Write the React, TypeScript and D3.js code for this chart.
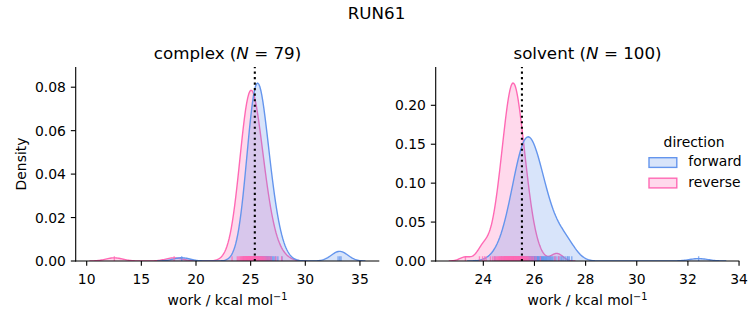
import React from "react";
import * as d3 from "d3";

// ---------- data ----------
const directions = ["forward", "reverse"];
const colors = ["#6495ED", "#FF69B4"];

// work values (kcal/mol)
const complexForward = [
  24.36, 24.57, 24.68, 24.76, 24.83, 24.88, 24.93, 24.97, 25.0, 25.04,
  25.07, 25.1, 25.13, 25.15, 25.18, 25.2, 25.23, 25.25, 25.27, 25.29,
  25.31, 25.33, 25.35, 25.37, 25.39, 25.41, 25.43, 25.45, 25.46, 25.48,
  25.5, 25.52, 25.53, 25.55, 25.57, 25.59, 25.6, 25.62,
  25.65, 25.68, 25.71, 25.74, 25.77, 25.8, 25.83, 25.87, 25.9, 25.93,
  25.96, 25.99, 26.03, 26.06, 26.1, 26.13, 26.17, 26.21, 26.24, 26.28,
  26.32, 26.36, 26.41, 26.45, 26.5, 26.55, 26.6, 26.66, 26.72, 26.79,
  26.86, 26.94, 27.04, 27.15, 27.29, 27.49, 27.87,
  18.69, 33.0, 33.15, 33.27,
];
const complexReverse = [
  23.3, 23.78, 23.91, 24.01, 24.09, 24.15, 24.21, 24.26, 24.3, 24.34,
  24.38, 24.42, 24.45, 24.48, 24.51, 24.54, 24.57, 24.6, 24.63, 24.65,
  24.68, 24.7, 24.73, 24.75, 24.77, 24.79, 24.82, 24.84, 24.86, 24.88,
  24.9, 24.92, 24.95, 24.97, 24.99, 25.01, 25.03, 25.04, 25.05, 25.06,
  25.08, 25.12, 25.15, 25.18, 25.22, 25.25, 25.29, 25.32, 25.36, 25.39,
  25.43, 25.46, 25.5, 25.54, 25.57, 25.61, 25.65, 25.69, 25.74, 25.78,
  25.82, 25.87, 25.92, 25.97, 26.02, 26.07, 26.13, 26.19, 26.26, 26.33,
  26.41, 26.5, 26.61, 26.73, 26.88, 27.3, 27.84,
  12.53, 18.0,
];
const solventForward = [
  24.45, 24.71, 24.82, 24.89, 24.95, 25.0, 25.05, 25.08, 25.12, 25.15,
  25.18, 25.21, 25.23, 25.25, 25.28, 25.3, 25.32, 25.34, 25.36, 25.38,
  25.4, 25.42, 25.43, 25.45, 25.47, 25.48, 25.5, 25.52, 25.53, 25.55,
  25.56, 25.58, 25.59, 25.61, 25.62, 25.63, 25.65, 25.66, 25.68, 25.69,
  25.7, 25.72, 25.73, 25.75, 25.76, 25.77, 25.78,
  25.79, 25.8, 25.82, 25.84, 25.85, 25.87, 25.89, 25.9, 25.92, 25.94,
  25.95, 25.97, 25.99, 26.01, 26.02, 26.04, 26.06, 26.08, 26.1, 26.12,
  26.13, 26.15, 26.17, 26.2, 26.22, 26.24, 26.26, 26.28, 26.31, 26.33,
  26.36, 26.38, 26.41, 26.44, 26.47, 26.5, 26.54, 26.58, 26.62, 26.66,
  26.71, 26.77, 26.84, 26.93, 27.06, 27.31,
  27.0, 27.12, 27.2, 27.28, 27.36, 27.46,
  32.42,
];
const solventReverse = [
  23.3, 23.85, 23.97, 24.05,
  24.11, 24.28, 24.37, 24.43, 24.48, 24.52, 24.56, 24.59, 24.62, 24.64,
  24.67, 24.69, 24.71, 24.73, 24.75, 24.77, 24.79, 24.81, 24.82, 24.84,
  24.85, 24.87, 24.88, 24.9, 24.91, 24.92, 24.94, 24.95, 24.96, 24.98,
  24.99, 25.0, 25.01, 25.03, 25.04, 25.05, 25.06, 25.07, 25.08, 25.1,
  25.11, 25.12, 25.13, 25.14, 25.15, 25.16, 25.17, 25.12,
  25.18, 25.19, 25.2, 25.21, 25.22, 25.23, 25.24, 25.26, 25.27, 25.28,
  25.29, 25.3, 25.31, 25.33, 25.34, 25.35, 25.36, 25.38, 25.39, 25.4,
  25.42, 25.43, 25.44, 25.46, 25.47, 25.49, 25.5, 25.52, 25.53, 25.55,
  25.57, 25.59, 25.61, 25.63, 25.65, 25.67, 25.7, 25.72, 25.75, 25.78,
  25.82, 25.86, 25.91, 25.97, 26.06, 26.23,
  26.8, 26.95,
];

const phases = ["complex", "solvent"];
const estimates = [25.38, 25.51];
const complexXTicks = [10, 15, 20, 25, 30, 35];
const complexYTicks = [0, 0.02, 0.04, 0.06, 0.08];
const solventXTicks = [24, 26, 28, 30, 32, 34];
const solventYTicks = [0, 0.05, 0.1, 0.15, 0.2];
const complexXDomain = [8.994, 36.77];
const complexYDomain = [0, 0.0893];
const solventXDomain = [22.138, 34.01];
const solventYDomain = [0, 0.2492];

// densities are normalised over the whole data set (common_norm)
const normCount =
  complexForward.length + complexReverse.length + solventForward.length + solventReverse.length;

// ---------- helpers ----------
function kde(samples: number[], weight: number): [number, number][] {
  const n = samples.length;
  const sd = d3.deviation(samples) as number;
  const bw = sd * Math.pow(n, -1 / 5);
  const lo = (d3.min(samples) as number) - 3 * bw;
  const hi = (d3.max(samples) as number) + 3 * bw;
  const norm = 1 / (n * bw * Math.sqrt(2 * Math.PI));
  return d3.range(200).map((i) => {
    const x = lo + ((hi - lo) * i) / 199;
    const s = d3.sum(samples, (v) => Math.exp(-0.5 * ((x - v) / bw) ** 2));
    return [x, weight * s * norm];
  });
}

const FONT = "DejaVu Sans, sans-serif";
const TICK_FS = 13.9;
const TITLE_FS = 16.7;
const LW = 1.39;
const SPINE = 1.11;
const TICK_LEN = 4.86;

type PanelProps = {
  x0: number; x1: number; y0: number; y1: number;
  xDomain: number[]; yDomain: number[];
  xTicks: number[]; yTicks: number[];
  series: number[][];
  estimate: number;
  title: string; count: number;
  showYLabel: boolean;
  id: string;
};

function Panel(p: PanelProps) {
  const x = d3.scaleLinear().domain(p.xDomain).range([p.x0, p.x1]);
  const y = d3.scaleLinear().domain(p.yDomain).range([p.y1, p.y0]);
  const area = d3.area<[number, number]>().x((d) => x(d[0])).y0(y(0)).y1((d) => y(d[1]));
  const line = d3.line<[number, number]>().x((d) => x(d[0])).y((d) => y(d[1]));
  const curves = p.series.map((s) => kde(s, s.length / normCount));
  const rugH = 0.025 * (p.y1 - p.y0);
  const yFmt = d3.format(".2f");
  const order = [1, 0]; // reverse drawn first, forward on top
  return (
    <g>
      <defs>
        <clipPath id={`clip-${p.id}`}>
          <rect x={p.x0} y={p.y0} width={p.x1 - p.x0} height={p.y1 - p.y0} />
        </clipPath>
      </defs>
      <g clipPath={`url(#clip-${p.id})`}>
        {order.map((k) => (
          <g key={k}>
            <path d={area(curves[k]) as string} fill={colors[k]} fillOpacity={0.25} stroke="none" />
            <path d={line(curves[k]) as string} fill="none" stroke={colors[k]} strokeWidth={LW} />
          </g>
        ))}
        {[0, 1].map((k) =>
          p.series[k].map((v, i) => (
            <line key={`${k}-${i}`} x1={x(v)} x2={x(v)} y1={p.y1} y2={p.y1 - rugH}
              stroke={colors[k]} strokeWidth={LW} strokeOpacity={0.75} />
          ))
        )}
        <line x1={x(p.estimate)} x2={x(p.estimate)} y1={p.y1} y2={p.y0}
          stroke="#000" strokeWidth={2.08} strokeDasharray="2.08 3.43" />
      </g>
      {/* spines */}
      <line x1={p.x0} x2={p.x0} y1={p.y0} y2={p.y1 + SPINE / 2} stroke="#000" strokeWidth={SPINE} />
      <line x1={p.x0 - SPINE / 2} x2={p.x1} y1={p.y1} y2={p.y1} stroke="#000" strokeWidth={SPINE} />
      {p.xTicks.map((t) => (
        <g key={`xt${t}`}>
          <line x1={x(t)} x2={x(t)} y1={p.y1} y2={p.y1 + TICK_LEN} stroke="#000" strokeWidth={SPINE} />
          <text x={x(t)} y={p.y1 + 22.5} textAnchor="middle" fontSize={TICK_FS} fontFamily={FONT}>{t}</text>
        </g>
      ))}
      {p.yTicks.map((t) => (
        <g key={`yt${t}`}>
          <line x1={p.x0} x2={p.x0 - TICK_LEN} y1={y(t)} y2={y(t)} stroke="#000" strokeWidth={SPINE} />
          <text x={p.x0 - 9.72} y={y(t) + 5} textAnchor="end" fontSize={TICK_FS} fontFamily={FONT}>{yFmt(t)}</text>
        </g>
      ))}
      <text x={(p.x0 + p.x1) / 2} y={p.y0 - 8.3} textAnchor="middle" fontSize={TITLE_FS} fontFamily={FONT}>
        {p.title} (<tspan fontStyle="italic">N</tspan> = {p.count})
      </text>
      <text x={(p.x0 + p.x1) / 2} y={p.y1 + 44} textAnchor="middle" fontSize={TICK_FS} fontFamily={FONT}>
        work / kcal mol<tspan dy={-5.5} fontSize={9.7}>−1</tspan>
      </text>
      {p.showYLabel && (
        <text transform={`translate(26,${(p.y0 + p.y1) / 2}) rotate(-90)`} textAnchor="middle"
          fontSize={TICK_FS} fontFamily={FONT}>Density</text>
      )}
    </g>
  );
}

export default function App() {
  const Y0 = 67, Y1 = 261;
  return (
    <svg width={753} height={325} style={{ position: "absolute", left: 0, top: 0, background: "#fff" }}>
      <rect x={0} y={0} width={753} height={325} fill="#fff" />
      <text x={376.5} y={19} textAnchor="middle" fontSize={TITLE_FS} fontFamily={FONT}>RUN61</text>
      <Panel id="c" x0={75.7} x1={379.3} y0={Y0} y1={Y1}
        xDomain={complexXDomain} yDomain={complexYDomain}
        xTicks={complexXTicks} yTicks={complexYTicks}
        series={[complexForward, complexReverse]} estimate={estimates[0]}
        title={phases[0]} count={complexForward.length} showYLabel={true} />
      <Panel id="s" x0={435.7} x1={739.3} y0={Y0} y1={Y1}
        xDomain={solventXDomain} yDomain={solventYDomain}
        xTicks={solventXTicks} yTicks={solventYTicks}
        series={[solventForward, solventReverse]} estimate={estimates[1]}
        title={phases[1]} count={solventForward.length} showYLabel={false} />
      {/* legend */}
      <text x={694} y={146.7} textAnchor="middle" fontSize={TICK_FS} fontFamily={FONT}>direction</text>
      {directions.map((d, i) => (
        <g key={d}>
          <rect x={649} y={157.7 + i * 20.5} width={27.8} height={9.7}
            fill={colors[i]} fillOpacity={0.25} stroke={colors[i]} strokeWidth={LW} />
          <text x={688.3} y={166.3 + i * 20.5} fontSize={TICK_FS} fontFamily={FONT}>{d}</text>
        </g>
      ))}
    </svg>
  );
}
